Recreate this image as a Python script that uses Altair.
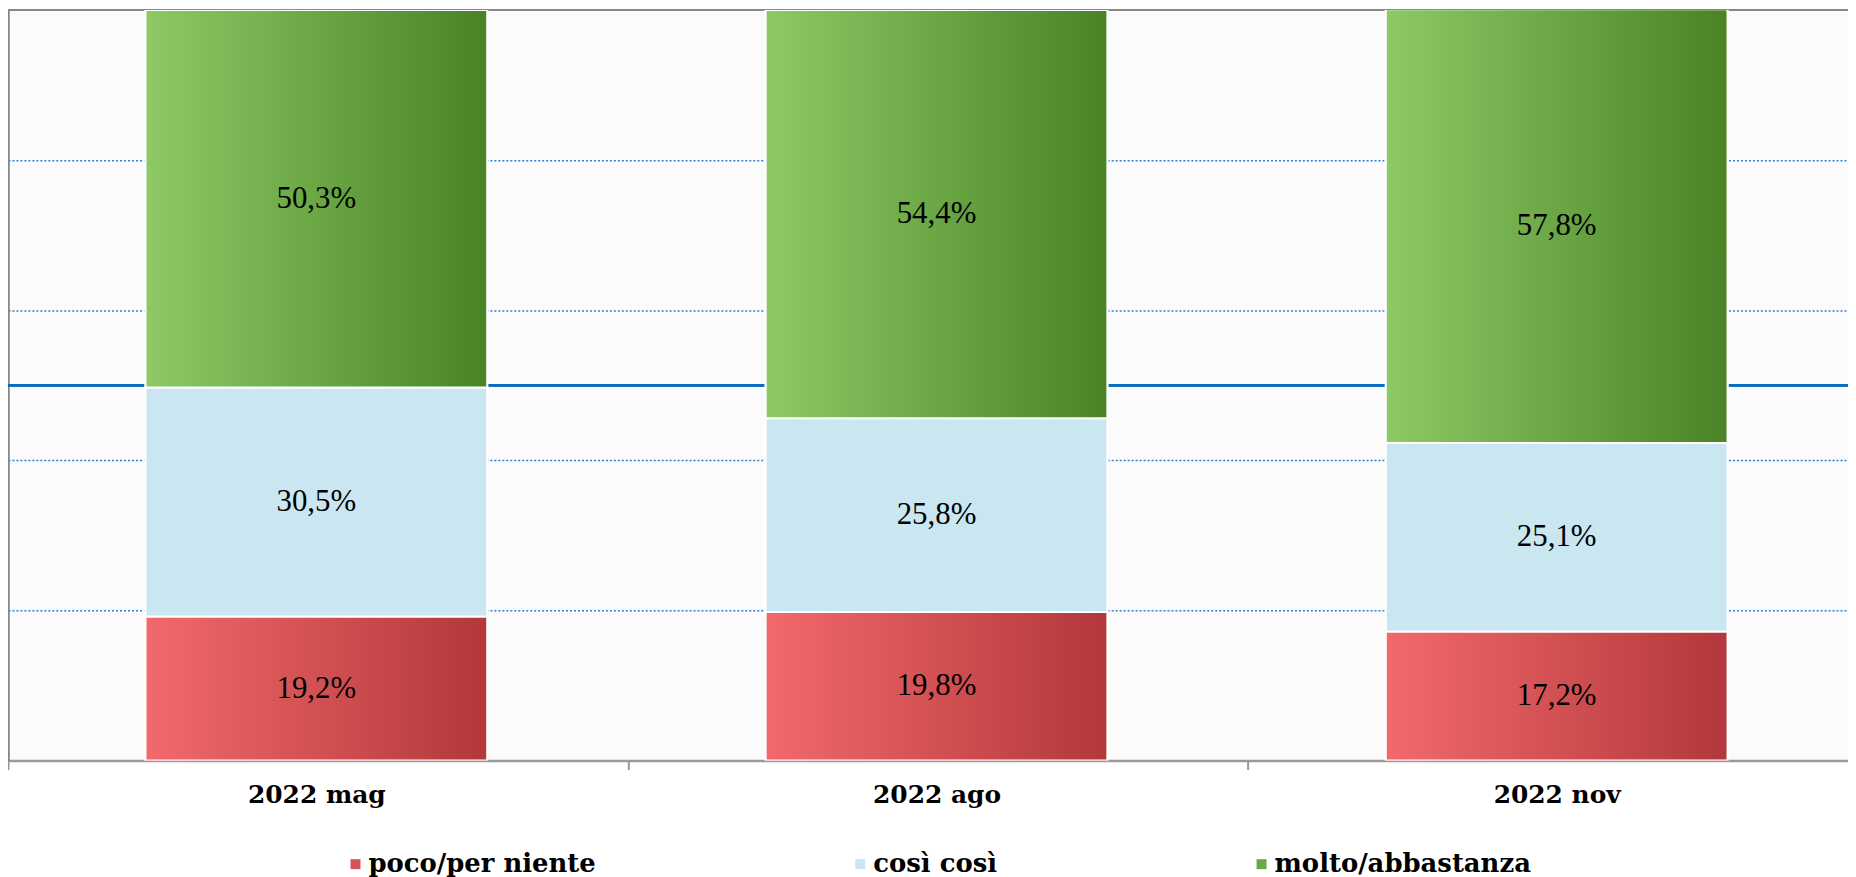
import altair as alt
import pandas as pd

periods = ["2022 mag", "2022 ago", "2022 nov"]
series = ["poco/per niente", "così così", "molto/abbastanza"]
poco = [19.2, 19.8, 17.2]
cosi = [30.5, 25.8, 25.1]
molto = [50.3, 54.4, 57.8]

legend_colors = ["#d55356", "#cae6f1", "#6aa843"]
grad_red = alt.LinearGradient(gradient="linear", x1=0, x2=1, y1=0, y2=0,
                              stops=[alt.GradientStop(color="#f2696b", offset=0),
                                     alt.GradientStop(color="#b2383b", offset=1)])
grad_blue = "#cae6f1"
grad_green = alt.LinearGradient(gradient="linear", x1=0, x2=1, y1=0, y2=0,
                                stops=[alt.GradientStop(color="#8dca65", offset=0),
                                       alt.GradientStop(color="#498325", offset=1)])

rows = []
for i, p in enumerate(periods):
    for k, (s, vals) in enumerate(zip(series, [poco, cosi, molto])):
        v = vals[i]
        rows.append({"period": p, "series": s, "order": k, "value": v,
                     "label": f"{v:.1f}".replace(".", ",") + "%"})
df = pd.DataFrame(rows)

W, H = 1848, 754
STEP = 620

xscale = alt.Scale(type="band", paddingInner=0.449, paddingOuter=0.208, align=0.533)
xenc = alt.X("period:N", sort=periods, scale=xscale,
             axis=alt.Axis(title=None, labelFont="DejaVu Serif", labelFontWeight="bold",
                           labelFontSize=25, labelColor="black", labelPadding=13,
                           labelAngle=0, tickSize=9, tickColor="#9a9a9a", tickWidth=2,
                           domainColor="#9a9a9a", domainWidth=2.5,
                           tickOffset=-STEP / 2, labelOffset=STEP / 2,
                           grid=False))
yscale = alt.Scale(domain=[0, 100], nice=False)
yenc = alt.Y("y0:Q", scale=yscale,
             axis=alt.Axis(title=None, values=[20, 40, 60, 80], labels=False, ticks=False,
                           grid=True, gridColor="#2f7fd0", gridDash=[2, 2], gridWidth=1.6,
                           domainColor="#858585", domainWidth=2.5))

base = alt.Chart(df).transform_stack(
    stack="value", groupby=["period"], as_=["y0", "y1"], sort=[alt.SortField("order")]
)

half = alt.Chart(df).mark_rule(color="#0b6cbf", strokeWidth=2).encode(
    y=alt.datum(50, scale=yscale))

topline = alt.Chart(df).mark_rule(color="#888888", strokeWidth=2).encode(
    x=alt.value(0), x2=alt.value("width"), y=alt.value(0))

solid = base.mark_bar(clip=True, stroke="white", strokeWidth=2).encode(
    x=xenc, y=yenc, y2="y1:Q",
    color=alt.Color("series:N", scale=alt.Scale(domain=series, range=legend_colors),
                    legend=alt.Legend(orient="none", legendX=336, legendY=845,
                                      direction="horizontal", title=None,
                                      labelFont="DejaVu Serif", labelFontWeight="bold",
                                      labelFontSize=26, labelColor="black",
                                      symbolType="square", symbolSize=100,
                                      symbolStrokeWidth=0, columnPadding=252,
                                      labelOffset=0, padding=0, labelLimit=0)))

layers = []
for s, g in zip(series, [grad_red, grad_blue, grad_green]):
    layers.append(base.transform_filter(alt.datum.series == s).mark_bar(
        clip=True, color=g, stroke="white", strokeWidth=2).encode(
        x=xenc, y=yenc, y2="y1:Q"))

text = base.transform_calculate(mid="(datum.y0 + datum.y1) / 2").mark_text(
    font="Liberation Serif", fontSize=31, color="black", baseline="middle").encode(
    x=xenc, y=alt.Y("mid:Q", scale=yscale), text="label:N")

chart = alt.layer(half, topline, solid, *layers, text).properties(
    width=W, height=H,
    autosize=alt.AutoSizeParams(type="none"),
    padding={"left": 0, "top": 0, "right": 0, "bottom": 115},
    background="white",
).configure_view(stroke=None, fill="#fbfbfb")

chart.save("out.html", embed_options={"renderer": "svg", "actions": False})
